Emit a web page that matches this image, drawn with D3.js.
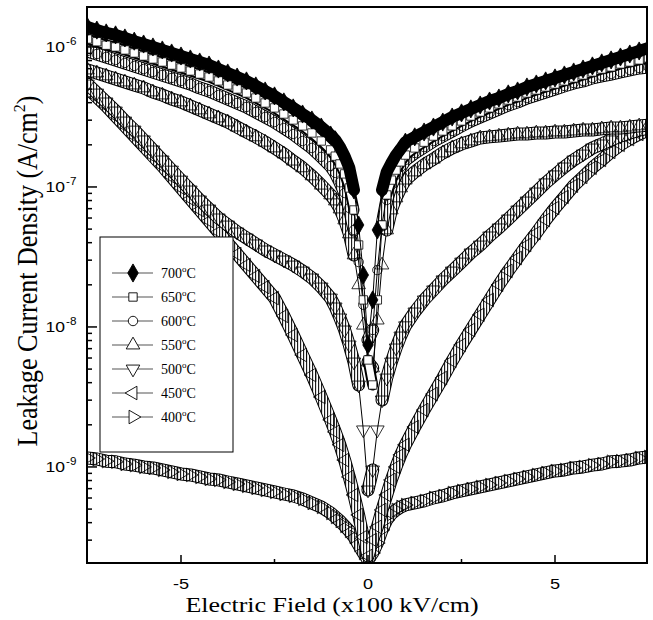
<!DOCTYPE html>
<html>
<head>
<meta charset="utf-8">
<script src="https://cdn.jsdelivr.net/npm/d3@7"></script>
<style>
body{margin:0;background:#fff}
svg{display:block}
</style>
</head>
<body>
<div id="chart"></div>
<script>
// electric field (x100 kV/cm), shared by every temperature
var fieldGrid = [-7.5,-7.25,-7,-6.75,-6.5,-6.25,-6,-5.75,-5.5,-5.25,-5,-4.75,-4.5,-4.25,-4,-3.75,-3.5,-3.25,-3,-2.75,-2.5,-2.25,-2,-1.75,-1.5,-1.25,
    -1,-0.875,-0.75,-0.625,-0.5,-0.375,-0.25,-0.125,0,0.125,0.25,0.375,0.5,0.625,0.75,0.875,1,
    1.25,1.5,1.75,2,2.25,2.5,2.75,3,3.25,3.5,3.75,4,4.25,4.5,4.75,5,5.25,5.5,5.75,6,6.25,6.5,6.75,7,7.25,7.5]

// leakage current density (A/cm2)
var j700 = [1.39e-6,1.32e-6,1.26e-6,1.22e-6,1.16e-6,1.10e-6,1.05e-6,1.00e-6,9.52e-7,9.06e-7,8.62e-7,8.21e-7,7.81e-7,7.43e-7,6.96e-7,6.52e-7,6.10e-7,5.72e-7,5.27e-7,4.85e-7,4.47e-7,4.05e-7,3.67e-7,3.32e-7,3.01e-7,2.68e-7,
    2.35e-7,2.17e-7,1.93e-7,1.66e-7,1.37e-7,9.52e-8,5.35e-8,2.35e-8,7.44e-9,1.56e-8,4.93e-8,9.52e-8,1.28e-7,1.48e-7,1.69e-7,1.87e-7,2.09e-7,
    2.28e-7,2.47e-7,2.68e-7,2.91e-7,3.16e-7,3.38e-7,3.61e-7,3.85e-7,4.11e-7,4.32e-7,4.62e-7,4.85e-7,5.18e-7,5.44e-7,5.72e-7,6.01e-7,6.31e-7,6.63e-7,6.96e-7,7.32e-7,7.69e-7,8.08e-7,8.48e-7,8.91e-7,9.36e-7,9.84e-7]
var j650 = [1.14e-6,1.09e-6,1.03e-6,1.00e-6,9.52e-7,9.06e-7,8.62e-7,8.21e-7,7.81e-7,7.43e-7,7.08e-7,6.74e-7,6.41e-7,6.10e-7,5.72e-7,5.35e-7,5.01e-7,4.69e-7,4.32e-7,3.98e-7,3.67e-7,3.32e-7,3.01e-7,2.73e-7,2.43e-7,2.13e-7,
    1.84e-7,1.66e-7,1.46e-7,1.24e-7,9.84e-8,6.85e-8,3.85e-8,1.56e-8,5.81e-9,3.85e-9,1.56e-8,5.35e-8,8.77e-8,1.12e-7,1.32e-7,1.51e-7,1.69e-7,
    1.90e-7,2.09e-7,2.31e-7,2.51e-7,2.73e-7,2.96e-7,3.21e-7,3.43e-7,3.67e-7,3.92e-7,4.18e-7,4.39e-7,4.69e-7,4.93e-7,5.18e-7,5.44e-7,5.72e-7,6.01e-7,6.31e-7,6.63e-7,6.96e-7,7.20e-7,7.56e-7,7.81e-7,8.08e-7,8.35e-7]
var j600 = [9.36e-7,8.91e-7,8.48e-7,8.08e-7,7.69e-7,7.32e-7,6.96e-7,6.63e-7,6.31e-7,6.01e-7,5.72e-7,5.44e-7,5.10e-7,4.85e-7,4.54e-7,4.25e-7,3.98e-7,3.73e-7,3.43e-7,3.16e-7,2.91e-7,2.64e-7,2.39e-7,2.13e-7,1.90e-7,1.64e-7,
    1.41e-7,1.26e-7,1.08e-7,9.06e-8,7.08e-8,4.93e-8,2.91e-8,1.44e-8,8.08e-9,9.52e-9,2.55e-8,5.35e-8,8.08e-8,1.03e-7,1.22e-7,1.39e-7,1.56e-7,
    1.75e-7,1.93e-7,2.13e-7,2.31e-7,2.51e-7,2.73e-7,2.96e-7,3.16e-7,3.38e-7,3.61e-7,3.85e-7,4.05e-7,4.32e-7,4.54e-7,4.77e-7,5.01e-7,5.27e-7,5.53e-7,5.72e-7,6.01e-7,6.21e-7,6.41e-7,6.63e-7,6.85e-7,7.08e-7,7.20e-7]
var j550 = [6.85e-7,6.52e-7,6.21e-7,5.91e-7,5.62e-7,5.35e-7,5.10e-7,4.77e-7,4.54e-7,4.25e-7,4.05e-7,3.79e-7,3.55e-7,3.32e-7,3.11e-7,2.91e-7,2.68e-7,2.47e-7,2.28e-7,2.09e-7,1.90e-7,1.72e-7,1.53e-7,1.37e-7,1.20e-7,1.03e-7,
    8.77e-8,7.94e-8,6.96e-8,5.81e-8,4.62e-8,3.27e-8,2.00e-8,1.03e-8,5.62e-9,5.10e-9,1.12e-8,2.77e-8,4.93e-8,6.85e-8,8.35e-8,9.84e-8,1.12e-7,
    1.28e-7,1.44e-7,1.58e-7,1.75e-7,1.90e-7,2.03e-7,2.13e-7,2.24e-7,2.28e-7,2.31e-7,2.35e-7,2.39e-7,2.39e-7,2.43e-7,2.43e-7,2.47e-7,2.47e-7,2.51e-7,2.55e-7,2.55e-7,2.60e-7,2.64e-7,2.64e-7,2.68e-7,2.73e-7,2.77e-7]
var j500 = [5.44e-7,4.69e-7,4.05e-7,3.49e-7,2.96e-7,2.55e-7,2.17e-7,1.84e-7,1.56e-7,1.32e-7,1.12e-7,9.52e-8,8.08e-8,6.96e-8,6.01e-8,5.35e-8,4.77e-8,4.32e-8,3.92e-8,3.55e-8,3.27e-8,3.01e-8,2.77e-8,2.51e-8,2.24e-8,1.93e-8,
    1.61e-8,1.39e-8,1.16e-8,9.52e-9,7.44e-9,5.62e-9,3.85e-9,1.84e-9,6.85e-10,9.52e-10,1.84e-9,3.01e-9,4.32e-9,5.62e-9,7.08e-9,8.62e-9,1.02e-8,
    1.28e-8,1.56e-8,1.84e-8,2.17e-8,2.51e-8,2.91e-8,3.38e-8,3.85e-8,4.47e-8,5.10e-8,5.91e-8,6.85e-8,7.94e-8,9.21e-8,1.07e-7,1.22e-7,1.39e-7,1.56e-7,1.72e-7,1.90e-7,2.03e-7,2.17e-7,2.31e-7,2.43e-7,2.55e-7,2.64e-7]
var j450 = [5.10e-7,4.39e-7,3.79e-7,3.21e-7,2.73e-7,2.31e-7,1.96e-7,1.66e-7,1.41e-7,1.18e-7,9.84e-8,8.21e-8,6.85e-8,5.72e-8,4.77e-8,3.98e-8,3.32e-8,2.77e-8,2.31e-8,1.93e-8,1.61e-8,1.20e-8,8.77e-9,6.31e-9,4.54e-9,3.16e-9,
    2.17e-9,1.78e-9,1.44e-9,1.12e-9,8.48e-10,6.31e-10,4.54e-10,3.16e-10,2.31e-10,3.01e-10,3.73e-10,4.93e-10,6.31e-10,8.08e-10,1.00e-9,1.22e-9,1.44e-9,
    1.93e-9,2.55e-9,3.32e-9,4.32e-9,5.72e-9,7.44e-9,9.52e-9,1.22e-8,1.56e-8,2.00e-8,2.51e-8,3.11e-8,3.85e-8,4.69e-8,5.81e-8,7.08e-8,8.48e-8,1.02e-7,1.18e-7,1.37e-7,1.56e-7,1.78e-7,2.00e-7,2.20e-7,2.39e-7,2.55e-7]
var j400 = [1.16e-9,1.14e-9,1.10e-9,1.09e-9,1.05e-9,1.03e-9,1.00e-9,9.84e-10,9.52e-10,9.21e-10,8.91e-10,8.77e-10,8.48e-10,8.21e-10,8.08e-10,7.81e-10,7.56e-10,7.32e-10,7.08e-10,6.85e-10,6.63e-10,6.41e-10,6.21e-10,5.91e-10,5.53e-10,5.18e-10,
    4.69e-10,4.39e-10,4.11e-10,3.79e-10,3.49e-10,3.16e-10,2.77e-10,2.43e-10,2.17e-10,2.43e-10,2.86e-10,3.55e-10,4.18e-10,4.62e-10,4.93e-10,5.18e-10,5.35e-10,
    5.53e-10,5.72e-10,6.01e-10,6.21e-10,6.52e-10,6.74e-10,6.96e-10,7.20e-10,7.44e-10,7.69e-10,7.94e-10,8.21e-10,8.48e-10,8.77e-10,9.06e-10,9.36e-10,9.52e-10,9.84e-10,1.00e-9,1.03e-9,1.05e-9,1.09e-9,1.10e-9,1.12e-9,1.16e-9,1.18e-9]

var tempLabels = ["700","650","600","550","500","450","400"]
var xTicks = [-5,0,5]
var xMinor = [-2.5,2.5]
var yTicks = [1e-6,1e-7,1e-8,1e-9]
var yTickExp = ["-6","-7","-8","-9"]

var width = 653, height = 620
var plotL = 87, plotR = 647, plotT = 7, plotB = 563

var svg = d3.select("#chart").append("svg").attr("width",width).attr("height",height)
var x = d3.scaleLinear().domain([-7.5,7.5]).range([87.5,648.5])
var y = d3.scaleLog().domain([2.06e-10,1.93e-6]).range([plotB,plotT])

var defs = svg.append("defs")
defs.append("clipPath").attr("id","plotclip").append("rect")
    .attr("x",plotL).attr("y",plotT).attr("width",plotR-plotL).attr("height",plotB-plotT)
var hatch = defs.append("pattern").attr("id","hatch").attr("width",3).attr("height",3)
    .attr("patternUnits","userSpaceOnUse")
hatch.append("rect").attr("width",3).attr("height",3).attr("fill","#fff")
hatch.append("line").attr("x1",0.6).attr("x2",0.6).attr("y1",0).attr("y2",3)
    .attr("stroke","#111").attr("stroke-width",1.1)

// symbol, rotation, marker fill and band style per temperature
var styles = {
    "700":{sym:d3.symbolDiamond,rot:0,size:95,fill:"#000",band:"black"},
    "650":{sym:d3.symbolSquare,rot:0,size:70,fill:"#fff",band:"white"},
    "600":{sym:d3.symbolCircle,rot:0,size:70,fill:"none",band:"hatch"},
    "550":{sym:d3.symbolTriangle,rot:0,size:80,fill:"none",band:"hatch"},
    "500":{sym:d3.symbolTriangle,rot:180,size:80,fill:"none",band:"hatch"},
    "450":{sym:d3.symbolTriangle,rot:-90,size:80,fill:"none",band:"hatch"},
    "400":{sym:d3.symbolTriangle,rot:90,size:80,fill:"none",band:"hatch"}
}
var valuesByTemp = {"700":j700,"650":j650,"600":j600,"550":j550,"500":j500,"450":j450,"400":j400}

var plot = svg.append("g").attr("clip-path","url(#plotclip)")

// where the measured points sit close together they merge into a band,
// where they are far apart (steep part near 0) only a thin line joins them
function splitPath(pts){
    var dense = "", sparse = "", prevDense = false
    for(var i=0;i<pts.length-1;i++){
        var a = pts[i], b = pts[i+1]
        var dist = Math.hypot(b[0]-a[0],b[1]-a[1])
        if(dist<=28){
            if(!prevDense) dense += "M"+a[0]+","+a[1]
            dense += "L"+b[0]+","+b[1]
            prevDense = true
        }else{
            sparse += "M"+a[0]+","+a[1]+"L"+b[0]+","+b[1]
            prevDense = false
        }
    }
    return {dense:dense,sparse:sparse}
}

// draw the lowest curves first so the 700 band ends on top
var drawOrder = ["400","450","500","550","600","650","700"]
drawOrder.forEach(function(t){
    var st = styles[t]
    var pts = fieldGrid.map(function(f,i){return [f,valuesByTemp[t][i]]})
    var px = pts.map(function(d){return [x(d[0]),y(d[1])]})
    var parts = splitPath(px)
    var g = plot.append("g").attr("class","series s"+t)
    g.append("path").attr("d",parts.sparse).attr("fill","none").attr("stroke","#000").attr("stroke-width",1)
    if(st.band=="black"){
        g.append("path").attr("d",parts.dense).attr("fill","none").attr("stroke","#000")
            .attr("stroke-width",12).attr("stroke-linejoin","round").attr("stroke-linecap","round")
    }else if(st.band=="white"){
        g.append("path").attr("d",parts.dense).attr("fill","none").attr("stroke","#000")
            .attr("stroke-width",11).attr("stroke-linejoin","round").attr("stroke-linecap","round")
        g.append("path").attr("d",parts.dense).attr("fill","none").attr("stroke","#fff")
            .attr("stroke-width",7).attr("stroke-linejoin","round").attr("stroke-linecap","round")
    }else{
        g.append("path").attr("d",parts.dense).attr("fill","none").attr("stroke","#000")
            .attr("stroke-width",13).attr("stroke-linejoin","round").attr("stroke-linecap","round")
        g.append("path").attr("d",parts.dense).attr("fill","none").attr("stroke","url(#hatch)")
            .attr("stroke-width",11).attr("stroke-linejoin","round").attr("stroke-linecap","round")
    }
    g.selectAll("path.mk").data(pts).enter().append("path").attr("class","mk")
        .attr("d",d3.symbol().type(st.sym).size(st.size))
        .attr("transform",function(d){return "translate("+x(d[0])+","+y(d[1])+") rotate("+st.rot+")"})
        .attr("fill",st.fill).attr("stroke","#000").attr("stroke-width",0.8)
})

// frame
svg.append("rect").attr("x",plotL).attr("y",plotT).attr("width",plotR-plotL).attr("height",plotB-plotT)
    .attr("fill","none").attr("stroke","#000").attr("stroke-width",2)

// x ticks (inward)
var axisG = svg.append("g")
axisG.selectAll("line.xt").data(xTicks).enter().append("line")
    .attr("x1",function(d){return x(d)}).attr("x2",function(d){return x(d)})
    .attr("y1",plotB).attr("y2",plotB-8).attr("stroke","#000").attr("stroke-width",1.5)
axisG.selectAll("line.xm").data(xMinor).enter().append("line")
    .attr("x1",function(d){return x(d)}).attr("x2",function(d){return x(d)})
    .attr("y1",plotB).attr("y2",plotB-4).attr("stroke","#000").attr("stroke-width",1.5)
axisG.selectAll("text.xl").data(xTicks).enter().append("text")
    .attr("transform",function(d){return "translate("+x(d)+",589) scale(1.17,1)"})
    .attr("text-anchor","middle").attr("font-family","Liberation Sans, Arial, sans-serif")
    .attr("font-size",15.5).text(function(d){return d==0?"0":(d<0?"-"+(-d):d)})

// y ticks, major and minor, on a log scale
var yMinor = []
yTicks.forEach(function(t){
    for(var m=2;m<=9;m++){
        var v = t*m
        if(v>y.domain()[0] && v<y.domain()[1]) yMinor.push(v)
    }
})
;[3e-10,4e-10,5e-10,6e-10,7e-10,8e-10,9e-10].forEach(function(v){ yMinor.push(v) })
axisG.selectAll("line.ym").data(yMinor).enter().append("line")
    .attr("x1",plotL).attr("x2",plotL+5)
    .attr("y1",function(d){return y(d)}).attr("y2",function(d){return y(d)})
    .attr("stroke","#000").attr("stroke-width",1.5)
axisG.selectAll("line.yt").data(yTicks).enter().append("line")
    .attr("x1",plotL).attr("x2",plotL+10)
    .attr("y1",function(d){return y(d)}).attr("y2",function(d){return y(d)})
    .attr("stroke","#000").attr("stroke-width",1.5)
axisG.selectAll("text.yl").data(yTicks).enter().append("text")
    .attr("transform",function(d){return "translate(65,"+(y(d)+5)+") scale(1.17,1)"})
    .attr("text-anchor","end").attr("font-family","Liberation Sans, Arial, sans-serif")
    .attr("font-size",15).text("10")
axisG.selectAll("text.ye").data(yTicks).enter().append("text")
    .attr("transform",function(d){return "translate(66,"+(y(d)-2)+") scale(1.17,1)"})
    .attr("font-family","Liberation Sans, Arial, sans-serif")
    .attr("font-size",10).text(function(d,i){return yTickExp[i]})

// axis titles
svg.append("text").attr("transform","translate(332,612) scale(1.18,1)")
    .attr("text-anchor","middle").attr("font-family","Liberation Serif, Times New Roman, serif")
    .attr("font-size",22).text("Electric Field (x100 kV/cm)")
var ytitle = svg.append("text").attr("transform","translate(37,271) scale(1.1,1) rotate(-90)")
    .attr("text-anchor","middle").attr("font-family","Liberation Serif, Times New Roman, serif")
    .attr("font-size",26)
ytitle.append("tspan").text("Leakage Current Density (A/cm")
ytitle.append("tspan").attr("font-size",16).attr("dy",-11).text("2")
ytitle.append("tspan").attr("dy",11).text(")")

// legend
var legend = svg.append("g")
legend.append("rect").attr("x",100).attr("y",237).attr("width",133).attr("height",215)
    .attr("fill","#fff").attr("stroke","#000").attr("stroke-width",1)
tempLabels.forEach(function(t,i){
    var st = styles[t]
    var ly = 273+i*24
    legend.append("line").attr("x1",112).attr("x2",153).attr("y1",ly).attr("y2",ly)
        .attr("stroke","#555").attr("stroke-width",1.2)
    legend.append("path").attr("d",d3.symbol().type(st.sym).size(st.size))
        .attr("transform","translate(133,"+ly+") rotate("+st.rot+")")
        .attr("fill",st.fill=="#000"?"#000":"#fff").attr("stroke","#000").attr("stroke-width",0.9)
    var tx = legend.append("text").attr("x",161).attr("y",ly+5)
        .attr("font-family","Liberation Serif, Times New Roman, serif").attr("font-size",14)
    tx.append("tspan").text(t)
    tx.append("tspan").attr("font-size",9).attr("dy",-6).text("o")
    tx.append("tspan").attr("dy",6).text("C")
})
</script>
</body>
</html>
